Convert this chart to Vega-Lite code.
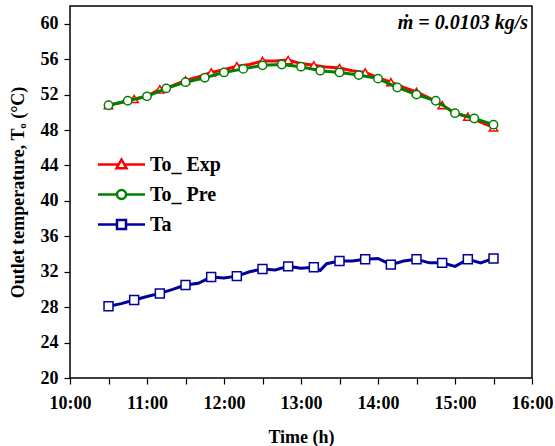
{
  "$schema": "https://vega.github.io/schema/vega-lite/v6.json",
  "width": 462,
  "height": 372,
  "autosize": "none",
  "padding": {"left": 70, "top": 6, "right": 23, "bottom": 68},
  "background": "white",
  "title": {
    "text": "ṁ = 0.0103 kg/s",
    "anchor": "end",
    "frame": "group",
    "orient": "top",
    "offset": -27,
    "dx": -4,
    "font": "Liberation Serif",
    "fontStyle": "italic",
    "fontWeight": "bold",
    "fontSize": 20,
    "color": "black"
  },
  "config": {
    "view": {"stroke": "black", "strokeWidth": 1.5},
    "font": "Liberation Serif",
    "axis": {
      "domain": false,
      "grid": false,
      "tickColor": "black",
      "tickWidth": 1.2,
      "labelFont": "Liberation Serif",
      "labelFontWeight": "bold",
      "labelFontSize": 18,
      "labelColor": "black",
      "titleFont": "Liberation Serif",
      "titleFontWeight": "bold",
      "titleFontSize": 18,
      "titleColor": "black"
    }
  },
  "data": {
    "values": [
      {"series": "To_Exp", "time": "10:30", "temp": 50.8},
      {"series": "To_Exp", "time": "10:40", "temp": 51.1},
      {"series": "To_Exp", "time": "10:50", "temp": 51.5},
      {"series": "To_Exp", "time": "11:00", "temp": 51.8},
      {"series": "To_Exp", "time": "11:10", "temp": 52.6},
      {"series": "To_Exp", "time": "11:20", "temp": 53.0},
      {"series": "To_Exp", "time": "11:30", "temp": 53.6},
      {"series": "To_Exp", "time": "11:40", "temp": 54.0},
      {"series": "To_Exp", "time": "11:50", "temp": 54.5},
      {"series": "To_Exp", "time": "12:00", "temp": 54.8},
      {"series": "To_Exp", "time": "12:10", "temp": 55.2},
      {"series": "To_Exp", "time": "12:20", "temp": 55.4},
      {"series": "To_Exp", "time": "12:30", "temp": 55.8},
      {"series": "To_Exp", "time": "12:40", "temp": 55.8},
      {"series": "To_Exp", "time": "12:50", "temp": 55.9},
      {"series": "To_Exp", "time": "13:00", "temp": 55.5},
      {"series": "To_Exp", "time": "13:10", "temp": 55.3},
      {"series": "To_Exp", "time": "13:20", "temp": 55.1},
      {"series": "To_Exp", "time": "13:30", "temp": 55.0},
      {"series": "To_Exp", "time": "13:40", "temp": 54.7},
      {"series": "To_Exp", "time": "13:50", "temp": 54.5},
      {"series": "To_Exp", "time": "14:00", "temp": 53.9},
      {"series": "To_Exp", "time": "14:10", "temp": 53.4},
      {"series": "To_Exp", "time": "14:20", "temp": 52.8},
      {"series": "To_Exp", "time": "14:30", "temp": 52.3},
      {"series": "To_Exp", "time": "14:40", "temp": 51.6},
      {"series": "To_Exp", "time": "14:50", "temp": 50.8},
      {"series": "To_Exp", "time": "15:00", "temp": 49.9},
      {"series": "To_Exp", "time": "15:10", "temp": 49.5},
      {"series": "To_Exp", "time": "15:20", "temp": 48.9},
      {"series": "To_Exp", "time": "15:30", "temp": 48.3},
      {"series": "To_Pre", "time": "10:30", "temp": 50.8},
      {"series": "To_Pre", "time": "10:45", "temp": 51.3},
      {"series": "To_Pre", "time": "11:00", "temp": 51.8},
      {"series": "To_Pre", "time": "11:15", "temp": 52.7},
      {"series": "To_Pre", "time": "11:30", "temp": 53.4},
      {"series": "To_Pre", "time": "11:45", "temp": 53.9},
      {"series": "To_Pre", "time": "12:00", "temp": 54.5},
      {"series": "To_Pre", "time": "12:15", "temp": 54.9},
      {"series": "To_Pre", "time": "12:30", "temp": 55.3},
      {"series": "To_Pre", "time": "12:45", "temp": 55.4},
      {"series": "To_Pre", "time": "13:00", "temp": 55.15},
      {"series": "To_Pre", "time": "13:15", "temp": 54.7},
      {"series": "To_Pre", "time": "13:30", "temp": 54.5},
      {"series": "To_Pre", "time": "13:45", "temp": 54.2},
      {"series": "To_Pre", "time": "14:00", "temp": 53.8},
      {"series": "To_Pre", "time": "14:15", "temp": 52.8},
      {"series": "To_Pre", "time": "14:30", "temp": 52.0},
      {"series": "To_Pre", "time": "14:45", "temp": 51.3},
      {"series": "To_Pre", "time": "15:00", "temp": 49.9},
      {"series": "To_Pre", "time": "15:15", "temp": 49.3},
      {"series": "To_Pre", "time": "15:30", "temp": 48.6},
      {"series": "Ta", "time": "10:30", "temp": 28.1},
      {"series": "Ta", "time": "10:40", "temp": 28.4},
      {"series": "Ta", "time": "10:50", "temp": 28.8},
      {"series": "Ta", "time": "11:00", "temp": 29.2},
      {"series": "Ta", "time": "11:10", "temp": 29.55},
      {"series": "Ta", "time": "11:20", "temp": 30.0},
      {"series": "Ta", "time": "11:30", "temp": 30.5},
      {"series": "Ta", "time": "11:40", "temp": 30.7},
      {"series": "Ta", "time": "11:50", "temp": 31.4},
      {"series": "Ta", "time": "12:00", "temp": 31.3},
      {"series": "Ta", "time": "12:10", "temp": 31.5},
      {"series": "Ta", "time": "12:20", "temp": 32.0},
      {"series": "Ta", "time": "12:30", "temp": 32.3},
      {"series": "Ta", "time": "12:40", "temp": 32.2},
      {"series": "Ta", "time": "12:50", "temp": 32.6},
      {"series": "Ta", "time": "13:00", "temp": 32.4},
      {"series": "Ta", "time": "13:10", "temp": 32.5},
      {"series": "Ta", "time": "13:15", "temp": 32.15},
      {"series": "Ta", "time": "13:20", "temp": 32.9},
      {"series": "Ta", "time": "13:30", "temp": 33.2},
      {"series": "Ta", "time": "13:40", "temp": 33.2},
      {"series": "Ta", "time": "13:50", "temp": 33.4},
      {"series": "Ta", "time": "14:00", "temp": 33.5},
      {"series": "Ta", "time": "14:10", "temp": 32.8},
      {"series": "Ta", "time": "14:20", "temp": 33.2},
      {"series": "Ta", "time": "14:30", "temp": 33.4},
      {"series": "Ta", "time": "14:40", "temp": 33.0},
      {"series": "Ta", "time": "14:50", "temp": 33.0},
      {"series": "Ta", "time": "15:00", "temp": 32.6},
      {"series": "Ta", "time": "15:10", "temp": 33.4},
      {"series": "Ta", "time": "15:20", "temp": 33.0},
      {"series": "Ta", "time": "15:30", "temp": 33.5}
    ],
    "format": {"parse": {"time": "date:'%H:%M'"}}
  },
  "encoding": {
    "x": {
      "field": "time",
      "type": "temporal",
      "scale": {
        "domain": [
          {"year": 1900, "month": 1, "date": 1, "hours": 10, "minutes": 0},
          {"year": 1900, "month": 1, "date": 1, "hours": 16, "minutes": 0}
        ]
      },
      "axis": {
        "title": "Time (h)",
        "format": "%H:%M",
        "tickSize": 6,
        "labelPadding": 10,
        "labelFlush": false,
        "titlePadding": 16
      }
    },
    "y": {
      "field": "temp",
      "type": "quantitative",
      "scale": {"domain": [20, 62], "nice": false, "zero": false},
      "axis": {
        "title": "Outlet temperature, Tₒ (°C)",
        "values": [20, 24, 28, 32, 36, 40, 44, 48, 52, 56, 60],
        "tickSize": 6,
        "labelPadding": 6,
        "titlePadding": 13
      }
    }
  },
  "layer": [
    {
      "transform": [{"filter": "datum.series == 'To_Exp'"}],
      "mark": {"type": "line", "strokeWidth": 3},
      "encoding": {
        "color": {
          "field": "series",
          "type": "nominal",
          "scale": {"domain": ["To_Exp", "To_Pre", "Ta"], "range": ["#FF0000", "#008000", "#00009C"]},
          "legend": {
            "orient": "none",
            "legendX": 40,
            "legendY": 147,
            "title": null,
            "padding": 0,
            "labelFont": "Liberation Serif",
            "labelFontWeight": "bold",
            "labelFontSize": 20,
            "labelColor": "black",
            "labelOffset": 17,
            "rowPadding": 8,
            "symbolSize": 400,
            "symbolStrokeWidth": 2.5,
            "labelExpr": "datum.value == 'To_Exp' ? 'To_ Exp' : datum.value == 'To_Pre' ? 'To_ Pre' : 'Ta'",
            "encode": {
              "symbols": {
                "update": {
                  "shape": {"signal": "datum.value == 'To_Exp' ? 'M-2.35,0L-0.3,0M0.3,0L2.35,0M0,-0.5L0.5,0.38L-0.5,0.38Z' : datum.value == 'To_Pre' ? 'M-2.35,0L-0.45,0M0.45,0L2.35,0M-0.45,0A0.45,0.45 0 1,0 0.45,0A0.45,0.45 0 1,0 -0.45,0Z' : 'M-2.35,0L-0.45,0M0.45,0L2.35,0M-0.45,-0.45L0.45,-0.45L0.45,0.45L-0.45,0.45Z'"},
                  "fill": {"value": "white"}
                }
              }
            }
          }
        }
      }
    },
    {
      "transform": [{"filter": "datum.series == 'To_Exp' && minutes(datum.time) % 20 == 10"}],
      "mark": {"type": "point", "shape": "triangle-up", "filled": true, "fill": "white", "stroke": "#FF0000", "strokeWidth": 1.5, "size": 70, "opacity": 1}
    },
    {
      "transform": [{"filter": "datum.series == 'To_Pre'"}],
      "mark": {"type": "line", "strokeWidth": 3},
      "encoding": {
        "color": {
          "field": "series",
          "type": "nominal",
          "scale": {"domain": ["To_Exp", "To_Pre", "Ta"], "range": ["#FF0000", "#008000", "#00009C"]},
          "legend": {
            "orient": "none",
            "legendX": 40,
            "legendY": 147,
            "title": null,
            "padding": 0,
            "labelFont": "Liberation Serif",
            "labelFontWeight": "bold",
            "labelFontSize": 20,
            "labelColor": "black",
            "labelOffset": 17,
            "rowPadding": 8,
            "symbolSize": 400,
            "symbolStrokeWidth": 2.5,
            "labelExpr": "datum.value == 'To_Exp' ? 'To_ Exp' : datum.value == 'To_Pre' ? 'To_ Pre' : 'Ta'",
            "encode": {
              "symbols": {
                "update": {
                  "shape": {"signal": "datum.value == 'To_Exp' ? 'M-2.35,0L-0.3,0M0.3,0L2.35,0M0,-0.5L0.5,0.38L-0.5,0.38Z' : datum.value == 'To_Pre' ? 'M-2.35,0L-0.45,0M0.45,0L2.35,0M-0.45,0A0.45,0.45 0 1,0 0.45,0A0.45,0.45 0 1,0 -0.45,0Z' : 'M-2.35,0L-0.45,0M0.45,0L2.35,0M-0.45,-0.45L0.45,-0.45L0.45,0.45L-0.45,0.45Z'"},
                  "fill": {"value": "white"}
                }
              }
            }
          }
        }
      }
    },
    {
      "transform": [{"filter": "datum.series == 'To_Pre'"}],
      "mark": {"type": "point", "shape": "circle", "filled": true, "fill": "white", "stroke": "#008000", "strokeWidth": 1.5, "size": 70, "opacity": 1}
    },
    {
      "transform": [{"filter": "datum.series == 'Ta'"}],
      "mark": {"type": "line", "strokeWidth": 3},
      "encoding": {
        "color": {
          "field": "series",
          "type": "nominal",
          "scale": {"domain": ["To_Exp", "To_Pre", "Ta"], "range": ["#FF0000", "#008000", "#00009C"]},
          "legend": {
            "orient": "none",
            "legendX": 40,
            "legendY": 147,
            "title": null,
            "padding": 0,
            "labelFont": "Liberation Serif",
            "labelFontWeight": "bold",
            "labelFontSize": 20,
            "labelColor": "black",
            "labelOffset": 17,
            "rowPadding": 8,
            "symbolSize": 400,
            "symbolStrokeWidth": 2.5,
            "labelExpr": "datum.value == 'To_Exp' ? 'To_ Exp' : datum.value == 'To_Pre' ? 'To_ Pre' : 'Ta'",
            "encode": {
              "symbols": {
                "update": {
                  "shape": {"signal": "datum.value == 'To_Exp' ? 'M-2.35,0L-0.3,0M0.3,0L2.35,0M0,-0.5L0.5,0.38L-0.5,0.38Z' : datum.value == 'To_Pre' ? 'M-2.35,0L-0.45,0M0.45,0L2.35,0M-0.45,0A0.45,0.45 0 1,0 0.45,0A0.45,0.45 0 1,0 -0.45,0Z' : 'M-2.35,0L-0.45,0M0.45,0L2.35,0M-0.45,-0.45L0.45,-0.45L0.45,0.45L-0.45,0.45Z'"},
                  "fill": {"value": "white"}
                }
              }
            }
          }
        }
      }
    },
    {
      "transform": [{"filter": "datum.series == 'Ta' && minutes(datum.time) % 20 == 10"}],
      "mark": {"type": "point", "shape": "square", "filled": true, "fill": "white", "stroke": "#00009C", "strokeWidth": 1.5, "size": 80, "opacity": 1}
    }
  ]
}
